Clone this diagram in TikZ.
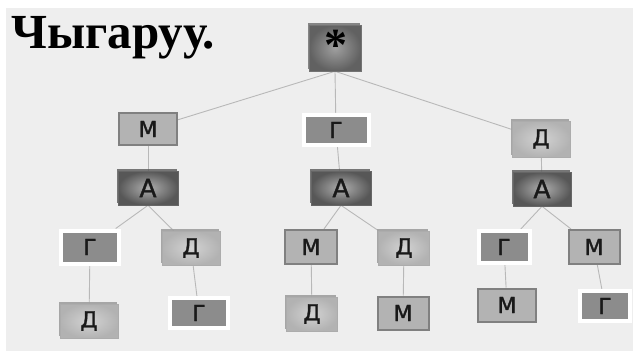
\documentclass[tikz,border=0pt]{standalone}
\usepackage{fontspec}
\setmainfont{Liberation Serif}
\newfontfamily\nodefont[FakeBold=1.5]{DejaVu Sans}
\usetikzlibrary{shadows,backgrounds}
\definecolor{bgc}{HTML}{EEEEEE}
\definecolor{mfill}{HTML}{B3B3B3}
\definecolor{mdraw}{HTML}{808080}
\definecolor{gfill}{HTML}{8C8C8C}
\definecolor{edgec}{HTML}{B8B8B8}
\tikzset{
  x=1pt,y=-1pt,
  base/.style={rectangle, inner sep=0pt, font=\nodefont\fontsize{22}{22}\selectfont, text=black!90},
  mbox/.style={base, fill=mfill, draw=mdraw, line width=2pt},
  gbox/.style={base, fill=gfill, draw=white, line width=4pt},
  dbox/.style={base, inner color=gray!35, outer color=gray!60, draw=gray!65, line width=0.6pt,
     drop shadow={shadow xshift=-1.5pt, shadow yshift=2.5pt, fill=gray!75, opacity=0.9}},
  abox/.style={base, font=\nodefont\fontsize{25}{25}\selectfont, inner color=gray!85!black!55!white, outer color=black!66, draw=black!60, line width=0.6pt,
     drop shadow={shadow xshift=-1.5pt, shadow yshift=2.5pt, fill=gray!70!black, opacity=0.8}},
  sbox/.style={base, inner color=gray!75, outer color=black!62, draw=black!55, line width=0.6pt,
     drop shadow={shadow xshift=-1.5pt, shadow yshift=2pt, fill=gray!70!black, opacity=0.7}},
  edge/.style={draw=edgec, line width=0.9pt},
}
\begin{document}
\begin{tikzpicture}
\useasboundingbox (0,0) rectangle (633,351);
\node[anchor=base west, inner sep=0pt, font=\fontsize{49}{49}\selectfont\bfseries] (title) at (11,48) {Чыгаруу.};
% root
\node[sbox, minimum width=52, minimum height=46] (s) at (335,48) {};
\node[font=\fontsize{46}{46}\selectfont\bfseries, inner sep=0pt, anchor=center] (st) at (336,45) {*};
% row 1
\node[mbox, minimum width=58, minimum height=32] (m1) at (148,129) {М};
\node[gbox, minimum width=65, minimum height=30] (g1) at (336,130) {Г};
\node[dbox, minimum width=58, minimum height=36] (d1) at (541,139) {Д};
% row 2
\node[abox, minimum width=60, minimum height=34] (a1) at (148,188) {А};
\node[abox, minimum width=60, minimum height=34] (a2) at (341,188) {А};
\node[abox, minimum width=58, minimum height=34] (a3) at (542,189) {А};
% row 3
\node[gbox, minimum width=58, minimum height=33] (g2) at (90,247) {Г};
\node[dbox, minimum width=58, minimum height=34] (d2) at (191,248) {Д};
\node[mbox, minimum width=52, minimum height=34] (m2) at (311,247) {М};
\node[dbox, minimum width=51, minimum height=34] (d3) at (404,248) {Д};
\node[gbox, minimum width=51, minimum height=32] (g3) at (504,247) {Г};
\node[mbox, minimum width=51, minimum height=34] (m3) at (594,247) {М};
% row 4
\node[dbox, minimum width=58, minimum height=34] (d4) at (89,321) {Д};
\node[gbox, minimum width=58, minimum height=30] (g4) at (199,313) {Г};
\node[dbox, minimum width=51, minimum height=34] (d5) at (312,314) {Д};
\node[mbox, minimum width=51, minimum height=33] (m4) at (403,313) {М};
\node[mbox, minimum width=58, minimum height=33] (m5) at (507,305) {М};
\node[gbox, minimum width=50, minimum height=30] (g5) at (605,306) {Г};
\begin{pgfonlayer}{background}
  \fill[bgc] (6,8) rectangle (633,351);
  \draw[edge] (s.south) -- (m1);
  \draw[edge] (s.south) -- (g1);
  \draw[edge] (s.south) -- (d1);
  \draw[edge] (m1) -- (a1);
  \draw[edge] (g1) -- (a2);
  \draw[edge] (d1) -- (a3);
  \draw[edge] (a1.south) -- (g2);
  \draw[edge] (a1.south) -- (d2);
  \draw[edge] (a2.south) -- (m2);
  \draw[edge] (a2.south) -- (d3);
  \draw[edge] (a3.south) -- (g3);
  \draw[edge] (a3.south) -- (m3);
  \draw[edge] (g2) -- (d4);
  \draw[edge] (d2) -- (g4);
  \draw[edge] (m2) -- (d5);
  \draw[edge] (d3) -- (m4);
  \draw[edge] (g3) -- (m5);
  \draw[edge] (m3) -- (g5);
\end{pgfonlayer}
\end{tikzpicture}
\end{document}
